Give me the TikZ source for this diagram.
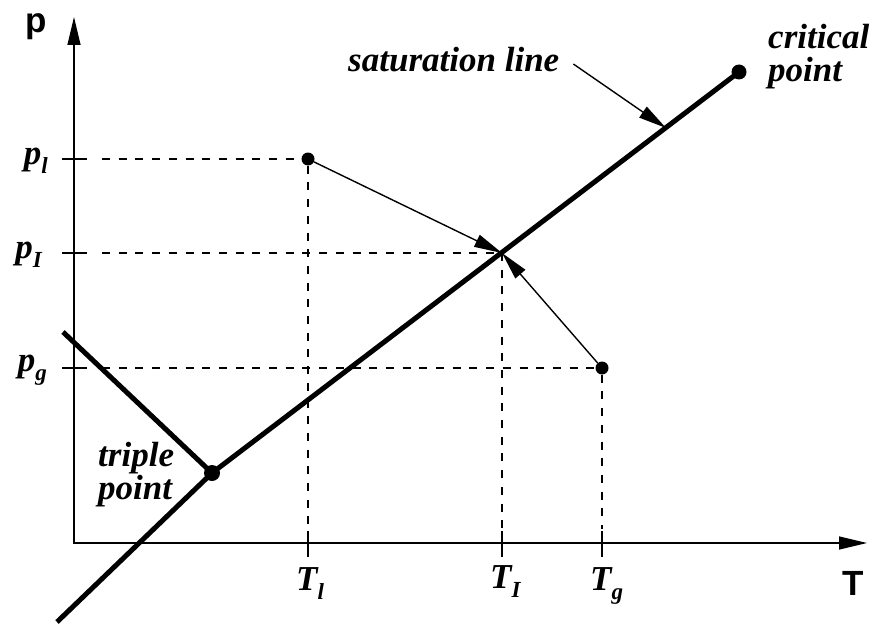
\documentclass[tikz,border=0pt]{standalone}
\usepackage{fontspec}
\setmainfont{Liberation Serif}
\setsansfont{Liberation Sans}
\usetikzlibrary{arrows.meta}
\newcommand{\withsub}[2]{#1\raisebox{-9pt}{\fontsize{23}{23}\selectfont #2}}
\tikzset{
  axisline/.style={line width=1.4pt,{Triangle[length=28pt,width=13pt]}-{Triangle[length=28pt,width=13pt]}},
  tickline/.style={line width=1.4pt},
  guide/.style={line width=1.3pt,dash pattern=on 8pt off 8.7pt},
  phaseline/.style={line width=5pt,line join=round},
  pointer/.style={line width=1.4pt,-{Triangle[length=28pt,width=13pt]}},
  dot/.style={circle,fill,inner sep=0pt,minimum size=#1},
  lbl/.style={font=\fontsize{35}{33}\selectfont\bfseries\itshape,inner sep=0pt},
  axislbl/.style={font=\fontsize{35}{35}\selectfont\sffamily\bfseries,inner sep=0pt}
}
\begin{document}
\begin{tikzpicture}[x=1pt,y=-1pt]
    \useasboundingbox (0,0) rectangle (882,623);
    \coordinate (O) at (74,543);
    \coordinate (ptop) at (74,17);
    \coordinate (Tend) at (867,543);
    \draw[axisline] (ptop) -- (O) -- (Tend); %axes
    \node[axislbl,anchor=base] (plbl) at (36,33) {p};
    \node[axislbl,anchor=base] (Tlbl) at (853,595) {T};

    % states
    \node[dot=13pt] (liq) at (308,159) {};
    \node[dot=13pt] (gas) at (602,368) {};
    \coordinate (intf) at (502,253);
    \node[dot=15pt] (crit) at (739,72) {};
    \node[dot=16pt] (trip) at (212,473) {};
    \coordinate (satlow) at (57,622);
    \coordinate (fusetop) at (63,332);

    % phase lines
    \draw[phaseline] (satlow) -- (trip.center) -- (crit.center);
    \draw[phaseline] (fusetop) -- (trip.center);

    % ticks and guides
    \foreach \pt in {liq,intf,gas} {
        \draw[tickline] ([xshift=-12pt]O |- \pt) -- ([xshift=13pt]O |- \pt);
        \draw[tickline] ([yshift=12pt]\pt |- O) -- ([yshift=-14pt]\pt |- O);
        \draw[guide] ([xshift=28pt]O |- \pt) -- (\pt);
        \draw[guide] (\pt) -- ([yshift=14pt]\pt |- O);
    }

    \node[lbl,anchor=base east] (pl) at (48,164) {\withsub{p}{l}};
    \node[lbl,anchor=base east] (pI) at (42,258) {\withsub{p}{I}};
    \node[lbl,anchor=base east] (pg) at (47,371) {\withsub{p}{g}};
    \node[lbl,anchor=base west] (Tl) at (296,590) {\withsub{T}{l}};
    \node[lbl,anchor=base west] (TI) at (490,588) {\withsub{T}{I}};
    \node[lbl,anchor=base west] (Tg) at (590,590) {\withsub{T}{g}};

    % moves to the interface
    \draw[pointer] (liq) -- (intf);
    \draw[pointer] (gas) -- (intf);

    % texts
    \node[lbl,anchor=base west] (satlbl) at (348,72) {saturation line};
    \coordinate (sattip) at (666,128);
    \draw[pointer] ([xshift=14pt,yshift=-4pt]satlbl.east) -- (sattip);
    \node[lbl,anchor=north west,align=left] (critlbl) at (768,24) {critical\\point};
    \node[lbl,anchor=north west,align=left] (triplbl) at (98,442) {triple\\point};
\end{tikzpicture}
\end{document}
